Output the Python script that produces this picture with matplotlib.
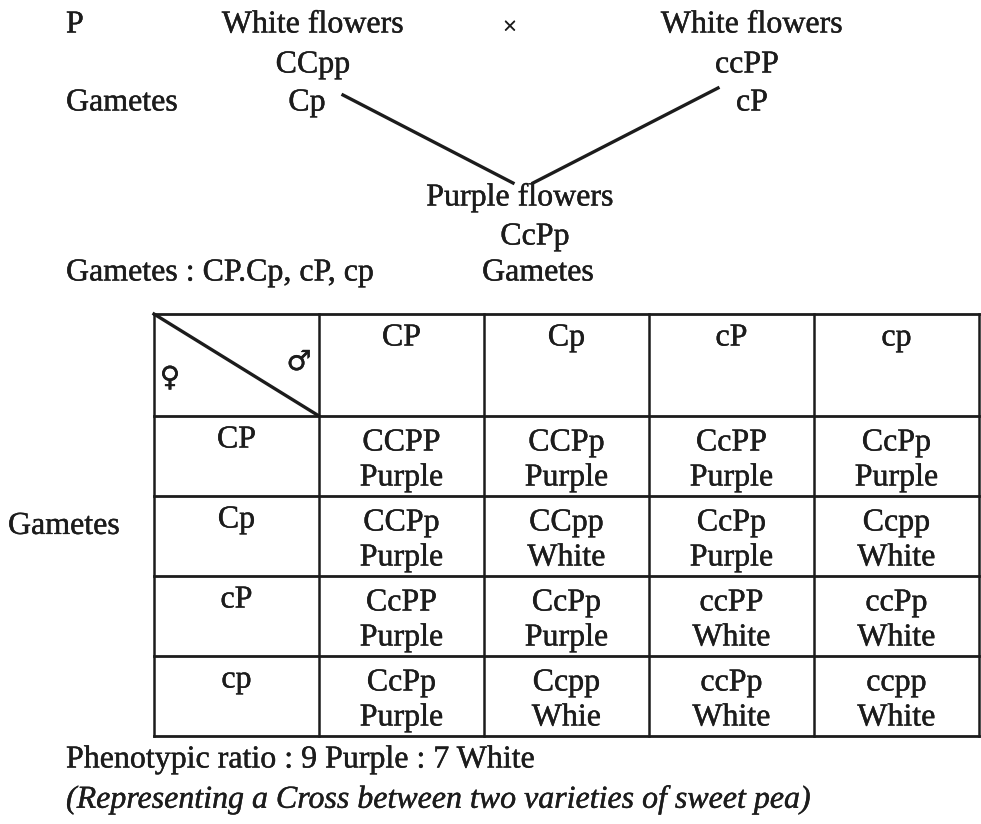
import matplotlib
matplotlib.use('Agg')
import matplotlib.pyplot as plt
import matplotlib.patheffects as pe

# Cross data
parents = ['White flowers', 'White flowers']
parent_genotypes = ['CCpp', 'ccPP']
parent_gametes = ['Cp', 'cP']
f1_label = 'Purple flowers'
f1_genotype = 'CcPp'

male_gametes = ['CP', 'Cp', 'cP', 'cp']
female_gametes = ['CP', 'Cp', 'cP', 'cp']
genotypes = [
    ['CCPP', 'CCPp', 'CcPP', 'CcPp'],
    ['CCPp', 'CCpp', 'CcPp', 'Ccpp'],
    ['CcPP', 'CcPp', 'ccPP', 'ccPp'],
    ['CcPp', 'Ccpp', 'ccPp', 'ccpp'],
]
phenotypes = [
    ['Purple', 'Purple', 'Purple', 'Purple'],
    ['Purple', 'White', 'Purple', 'White'],
    ['Purple', 'Purple', 'White', 'White'],
    ['Purple', 'Whie', 'White', 'White'],
]
ratio_text = 'Phenotypic ratio : 9 Purple : 7 White'
caption = '(Representing a Cross between two varieties of sweet pea)'

W, H = 981, 824
fig = plt.figure(figsize=(W / 100, H / 100), dpi=100)
ax = fig.add_axes([0, 0, 1, 1])
ax.set_xlim(0, W)
ax.set_ylim(H, 0)
ax.axis('off')

ink = '#1c1c1c'
fs = 23
heavy = [pe.withStroke(linewidth=0.3, foreground=ink)]
font = dict(family='Liberation Serif', fontsize=fs, color=ink)

def txt(x, y, s, ha='center', **kw):
    d = dict(font)
    d.update(kw)
    ax.text(x, y, s, ha=ha, va='center', path_effects=heavy, **d)

# Parent generation
txt(66, 25, 'P', ha='left')
txt(313, 25, parents[0])
txt(510, 28, '×', fontsize=18)
txt(752, 25, parents[1])
txt(313, 65, parent_genotypes[0])
txt(747, 65, parent_genotypes[1])
txt(66, 103, 'Gametes', ha='left')
txt(307, 103, parent_gametes[0])
txt(752, 103, parent_gametes[1])

ax.plot([343, 513], [95, 183], color=ink, lw=2.4)
ax.plot([718, 533], [88, 183], color=ink, lw=2.4)

txt(520, 198, f1_label)
txt(535, 237, f1_genotype)
txt(538, 273, 'Gametes')
txt(66, 273, 'Gametes : ' + male_gametes[0] + '.' + ', '.join(male_gametes[1:]), ha='left')

# Punnett square
x0, y0 = 154, 314
cw = 165
hh = 102
rh = 80
ncol = len(male_gametes) + 1
nrow = len(female_gametes)
x1 = x0 + ncol * cw
y1 = y0 + hh + nrow * rh

for i in range(ncol + 1):
    x = x0 + i * cw
    ax.plot([x, x], [y0, y1], color=ink, lw=1.8)
ys = [y0] + [y0 + hh + j * rh for j in range(nrow + 1)]
for y in ys:
    ax.plot([x0, x1], [y, y], color=ink, lw=2.0)
ax.plot([x0, x0 + cw], [y0, y0 + hh], color=ink, lw=2.4)

txt(x0 + 16, y0 + 64, '♀', family='DejaVu Sans', fontsize=20)
txt(x0 + cw - 20, y0 + 48, '♂', family='DejaVu Sans', fontsize=20)

for i, g in enumerate(male_gametes):
    txt(x0 + (i + 1.5) * cw, y0 + 24, g)

txt(8, y0 + hh + 1.38 * rh, 'Gametes', ha='left')
for j, g in enumerate(female_gametes):
    top = y0 + hh + j * rh
    txt(x0 + 0.5 * cw, top + 24, g)
    for i in range(len(male_gametes)):
        cx = x0 + (i + 1.5) * cw
        txt(cx, top + 27, genotypes[j][i])
        txt(cx, top + 62, phenotypes[j][i])

txt(66, 760, ratio_text, ha='left')
txt(66, 800, caption, ha='left', style='italic', fontsize=23)

fig.savefig('out.png', dpi=100, facecolor='white')
